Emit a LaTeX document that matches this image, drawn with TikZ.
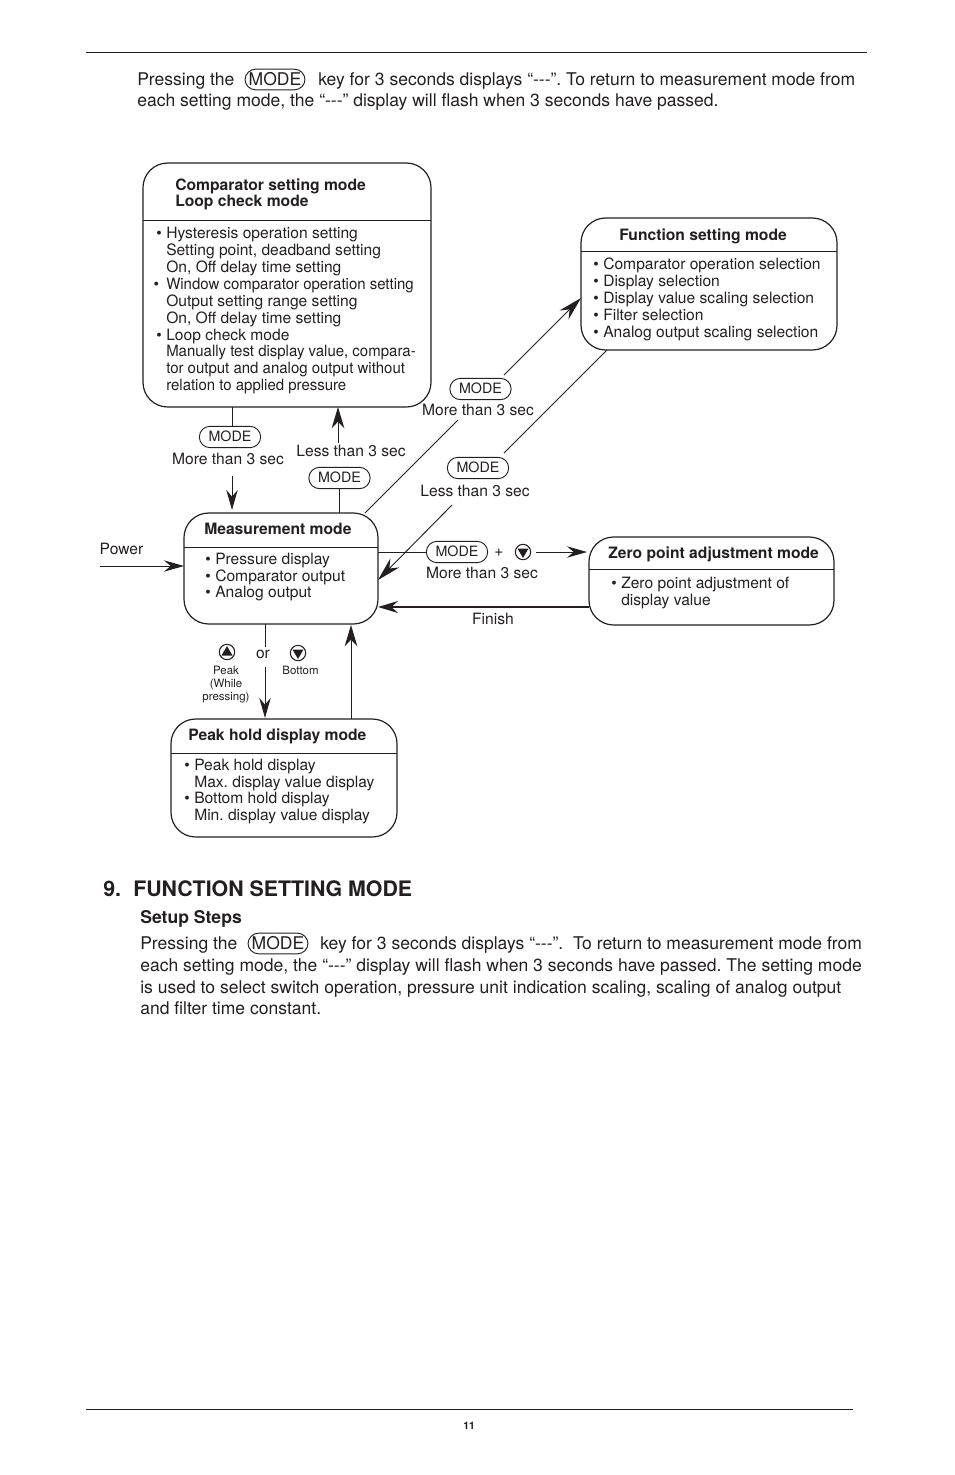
\documentclass[tikz,border=0pt]{standalone}
\usepackage{fontspec}
\usepackage{graphicx}
\setmainfont{TeX Gyre Heros}
\usetikzlibrary{arrows.meta}

\definecolor{inkc}{HTML}{231F20}
\newcommand{\bodyf}{\fontsize{13.15}{15.8}\selectfont}
\newcommand{\boxf}{\fontsize{11.7}{12.67}\selectfont}
\newcommand{\boxtf}{\fontsize{11.7}{12.35}\selectfont}
\newcommand{\headf}{\fontsize{11.75}{12}\selectfont\bfseries}
\newcommand{\tinyf}{\fontsize{8.6}{9.7}\selectfont}
\newcommand{\itm}{\makebox[7.5pt][l]{•}}
\newcommand{\cnt}{\hspace*{7.5pt}}
\newcommand{\dsh}{{-}{-}{-}}
\newcommand{\modetxt}{\raisebox{0.9pt}{MODE}}
\newcommand{\squeeze}[1]{\scalebox{0.96}[1]{#1}}

\tikzset{
    modebox/.style={draw=inkc, line width=0.9pt, rounded corners=18.5pt},
    divline/.style={draw=inkc, line width=0.6pt},
    pill/.style={draw=inkc, line width=0.7pt, rounded corners=8pt, minimum width=46pt, minimum height=16pt, inner sep=0pt, font=\fontsize{10.7}{12}\selectfont, text=inkc},
    bigpill/.style={pill, minimum height=15.5pt, minimum width=45pt, font=\bodyf},
    btn/.style={draw=inkc, line width=0.8pt, circle, minimum size=11.5pt, inner sep=0pt},
    txt/.style={anchor=base west, inner sep=0pt, text=inkc},
    lbl/.style={anchor=base, inner sep=0pt, text=inkc, font=\boxf},
    blk/.style={anchor=north west, inner sep=0pt, text=inkc, align=left},
    line/.style={draw=inkc, line width=0.7pt},
    arr/.style={line, -{Stealth[length=15pt, width=8.5pt, inset=5pt]}},
    diagarr/.style={line, -{Stealth[length=18pt, width=9.5pt, inset=6pt]}},
    bigarr/.style={line, -{Stealth[length=16pt, width=9.5pt, inset=5pt]}},
}

\begin{document}
\frenchspacing
\begin{tikzpicture}[x=0.75pt, y=-0.75pt]
    \useasboundingbox (0,0) rectangle (954,1475);

    % page rules
    \coordinate (topl) at (86,52.6);
    \coordinate (topr) at (867,52.6);
    \coordinate (botl) at (86,1409.6);
    \coordinate (botr) at (853,1409.6);
    \draw [divline] (topl) -- (topr);
    \draw [divline] (botl) -- (botr);
    \node [txt, font=\fontsize{7.8}{9}\selectfont\bfseries] (pageno) at (463,1429) {11};

    % text above the diagram
    \node [txt, font=\bodyf] (intro1) at (137,85) {Pressing the};
    \node [bigpill] (intromode) at (275,79.5) {\modetxt};
    \node [txt, font=\bodyf] (intro2) at (318,85) {key for 3 seconds displays “\dsh”. To return to measurement mode from};
    \node [txt, font=\bodyf] (intro3) at (137,106) {each setting mode, the “\dsh” display will flash when 3 seconds have passed.};

    % mode boxes
    \draw [modebox] (143,163) rectangle (431,407);
    \coordinate (compbl) at (143,220);
    \coordinate (compbr) at (431,220);
    \draw [divline] (compbl) -- (compbr);
    \node [blk, font=\headf] (comphead) at (175,179) {Comparator setting mode\\Loop check mode};
    \node [blk, font=\boxf] (compbody) at (156,227) {\itm Hysteresis operation setting\\
        \cnt Setting point, deadband setting\\
        \cnt On, Off delay time setting\\
        \hspace*{-2pt}\itm\hspace*{2pt}\squeeze{Window comparator operation setting}\\
        \cnt Output setting range setting\\
        \cnt On, Off delay time setting\\
        \itm Loop check mode\\
        \cnt \squeeze{Manually test display value, compara-}\\
        \cnt \squeeze{tor output and analog output without}\\
        \cnt \squeeze{relation to applied pressure}};

    \draw [modebox] (581,218) rectangle (837,350);
    \coordinate (funcbl) at (581,251);
    \coordinate (funcbr) at (837,251);
    \draw [divline] (funcbl) -- (funcbr);
    \node [blk, font=\headf] (funchead) at (619,229) {Function setting mode};
    \node [blk, font=\boxf] (funcbody) at (593,258) {\itm Comparator operation selection\\
        \itm Display selection\\
        \itm Display value scaling selection\\
        \itm Filter selection\\
        \itm Analog output scaling selection};

    \draw [modebox] (184,513) rectangle (378,624);
    \coordinate (measbl) at (184,547);
    \coordinate (measbr) at (378,547);
    \draw [divline] (measbl) -- (measbr);
    \node [blk, font=\headf] (meashead) at (204,523) {Measurement mode};
    \node [blk, font=\boxtf] (measbody) at (205,553) {\itm Pressure display\\
        \itm Comparator output\\
        \itm Analog output};

    \draw [modebox] (589,537) rectangle (834,625);
    \coordinate (zerobl) at (589,569);
    \coordinate (zerobr) at (834,569);
    \draw [divline] (zerobl) -- (zerobr);
    \node [blk, font=\headf] (zerohead) at (608,547) {Zero point adjustment mode};
    \node [blk, font=\boxtf] (zerobody) at (611,577) {\itm Zero point adjustment of\\\cnt display value};

    \draw [modebox] (171,719) rectangle (397,837);
    \coordinate (peakbl) at (171,753);
    \coordinate (peakbr) at (397,753);
    \draw [divline] (peakbl) -- (peakbr);
    \node [blk, font=\headf] (peakhead) at (188,729) {Peak hold display mode};
    \node [blk, font=\boxtf] (peakbody) at (184,759) {\itm Peak hold display\\
        \cnt Max. display value display\\
        \itm Bottom hold display\\
        \cnt Min. display value display};

    % key labels
    \node [pill] (modedown) at (230,437) {\modetxt};
    \node [lbl] (downtxt) at (228,464) {More than 3 sec};
    \node [pill] (modeup) at (339.5,478) {\modetxt};
    \node [lbl] (uptxt) at (351,456) {Less than 3 sec};
    \node [pill] (modefunc) at (480.5,389) {\modetxt};
    \node [lbl] (functxt) at (478,415) {More than 3 sec};
    \node [pill] (modeback) at (478,468) {\modetxt};
    \node [lbl] (backtxt) at (475,496) {Less than 3 sec};
    \node [pill] (modezero) at (457,552) {\modetxt};
    \node [lbl] (zerotxt) at (482,578) {More than 3 sec};
    \node [lbl] (plus) at (499,556) {+};
    \node [lbl] (finish) at (493,624) {Finish};
    \node [lbl] (power) at (121.5,554) {Power};
    \node [lbl] (ortxt) at (263,658) {or};
    \node [anchor=base, inner sep=0pt, align=center, text=inkc, font=\tinyf] (peaktxt) at (226,700) {Peak\\(While\\pressing)};
    \node [lbl, font=\tinyf] (bottomtxt) at (300.5,674) {Bottom};

    % buttons
    \foreach \name/\x/\y/\dir in {btnpeak/227/652/-1, btnbot/298/653/1, btnzero/523/552/1}
    {
        \node [btn] (\name) at (\x,\y) {};
        \fill [inkc] (\x-5.5,\y-3.5*\dir) -- (\x+5.5,\y-3.5*\dir) -- (\x,\y+6*\dir) -- cycle;
    }

    % connectors
    \coordinate (compout) at (232,407);
    \coordinate (downgap) at (232,476);
    \coordinate (downend) at (232,510);
    \draw [line] (compout) -- (compout |- modedown.north);
    \draw [arr] (downgap) -- (downend);

    \coordinate (upgap) at (338,443);
    \coordinate (upend) at (338,407);
    \coordinate (measup) at (339.5,513);
    \draw [line] (measup) -- (modeup);
    \draw [bigarr] (upgap) -- (upend);

    \coordinate (measne) at (365,513);
    \coordinate (gapa) at (458,420);
    \coordinate (gapb) at (504,375);
    \coordinate (funcin) at (581,298);
    \draw [line] (measne) -- (gapa);
    \draw [diagarr] (gapb) -- (funcin);

    \coordinate (funcout) at (607,350);
    \coordinate (gapc) at (504,453);
    \coordinate (gapd) at (452,505);
    \coordinate (measback) at (378,580);
    \draw [line] (funcout) -- (gapc);
    \draw [diagarr] (gapd) -- (measback);

    \coordinate (measout) at (378,552);
    \coordinate (zeroin) at (587,552);
    \draw [line] (measout) -- (modezero);
    \draw [arr] (btnzero) ++(13,0) -- (zeroin);

    \coordinate (zeroout) at (589,607);
    \coordinate (measfin) at (378,607);
    \draw [line, line width=1.5pt, -{Stealth[length=15pt, width=9pt, inset=5pt]}] (zeroout) -- (measfin);

    \coordinate (powerin) at (100,566);
    \coordinate (measpow) at (184,566);
    \draw [arr] (powerin) -- (measpow);

    \coordinate (measdn) at (265,624);
    \coordinate (orgapa) at (265,647);
    \coordinate (orgapb) at (265,667);
    \coordinate (peakin) at (265,718);
    \draw [line] (measdn) -- (orgapa);
    \draw [arr] (orgapb) -- (peakin);

    \coordinate (peakout) at (351,719);
    \coordinate (measret) at (351,625);
    \draw [bigarr] (peakout) -- (measret);

    % text below the diagram
    \node [txt, font=\fontsize{16}{19}\selectfont\bfseries] (secno) at (103,896) {9.};
    \node [txt, font=\fontsize{16}{19}\selectfont\bfseries] (sectitle) at (133,896) {FUNCTION SETTING MODE};
    \node [txt, font=\fontsize{13.2}{15}\selectfont\bfseries] (setup) at (140,923) {Setup Steps};
    \node [txt, font=\bodyf] (para1) at (140,949) {Pressing the};
    \node [bigpill] (paramode) at (278,943.5) {\modetxt};
    \node [txt, font=\bodyf] (para2) at (320,949) {key for 3 seconds displays “\dsh”.\ \ To return to measurement mode from};
    \node [txt, font=\bodyf] (para3) at (140,971) {each setting mode, the “\dsh” display will flash when 3 seconds have passed. The setting mode};
    \node [txt, font=\bodyf] (para4) at (140,993) {is used to select switch operation, pressure unit indication scaling, scaling of analog output};
    \node [txt, font=\bodyf] (para5) at (140,1014) {and filter time constant.};
\end{tikzpicture}
\end{document}
